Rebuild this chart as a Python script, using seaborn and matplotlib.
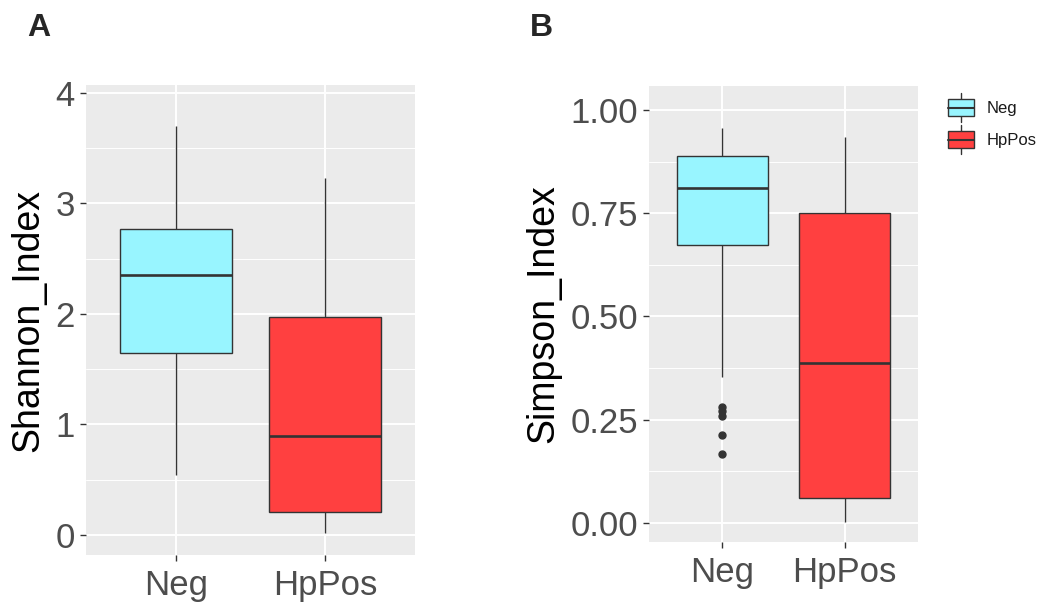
import numpy as np
import pandas as pd
import matplotlib
matplotlib.use("Agg")
import matplotlib.pyplot as plt
import seaborn as sns
from matplotlib.legend_handler import HandlerBase
from matplotlib.patches import Rectangle, Patch
from matplotlib.lines import Line2D

# ---------------- data ----------------
groups = ["Neg", "HpPos"]
shannon_neg = [0.545, 1.20, 1.65, 2.05, 2.35, 2.60, 2.77, 3.20, 3.70]
shannon_hppos = [0.02, 0.10, 0.21, 0.55, 0.90, 1.40, 1.97, 2.60, 3.23]
simpson_neg = [0.167, 0.213, 0.258, 0.270, 0.281, 0.354, 0.674,
               0.70, 0.73, 0.76, 0.78, 0.80, 0.812,
               0.83, 0.85, 0.86, 0.87, 0.88, 0.889,
               0.90, 0.91, 0.92, 0.93, 0.94, 0.957]
simpson_hppos = [0.002, 0.02, 0.061, 0.20, 0.388, 0.55, 0.751, 0.85, 0.935]
shannon_ticks = [0, 1, 2, 3, 4]
shannon_ticklabels = ["0", "1", "2", "3", "4"]
simpson_ticks = [0.00, 0.25, 0.50, 0.75, 1.00]
simpson_ticklabels = ["0.00", "0.25", "0.50", "0.75", "1.00"]
colors = {"Neg": "#98F5FF", "HpPos": "#FF4040"}

df_sh = pd.DataFrame({
    "group": ["Neg"] * len(shannon_neg) + ["HpPos"] * len(shannon_hppos),
    "Shannon_Index": shannon_neg + shannon_hppos,
})
df_si = pd.DataFrame({
    "group": ["Neg"] * len(simpson_neg) + ["HpPos"] * len(simpson_hppos),
    "Simpson_Index": simpson_neg + simpson_hppos,
})

# ---------------- style ----------------
sns.set_theme(style="darkgrid")
plt.rcParams["font.family"] = ["Liberation Sans", "DejaVu Sans"]

W, H = 1043, 605
fig = plt.figure(figsize=(W / 100, H / 100), dpi=100)

def px_axes(x0, y0, x1, y1):
    return fig.add_axes([x0 / W, 1 - y1 / H, (x1 - x0) / W, (y1 - y0) / H])

axA = px_axes(86, 85, 415, 555)
axB = px_axes(649, 86, 918, 542)

edge = "#333333"
box_kw = dict(order=groups, hue_order=groups, palette=colors, saturation=1,
              width=0.75, linecolor=edge, linewidth=1.0, legend=False,
              showcaps=False,
              medianprops=dict(linewidth=1.9, color=edge),
              whiskerprops=dict(linewidth=1.0, color=edge),
              flierprops=dict(marker="o", markerfacecolor=edge,
                              markeredgecolor=edge, markersize=5))

sns.boxplot(data=df_sh, x="group", y="Shannon_Index", hue="group", ax=axA, **box_kw)
sns.boxplot(data=df_si, x="group", y="Simpson_Index", hue="group", ax=axB, **box_kw)

def style_ax(ax, ylim, ticks, ticklabels, minor, label_x):
    ax.set_facecolor("#EBEBEB")
    ax.set_xlim(-0.6, 1.6)
    ax.set_ylim(*ylim)
    ax.set_yticks(ticks)
    ax.set_yticklabels(ticklabels)
    ax.set_yticks(minor, minor=True)
    ax.set_xlabel("")
    ax.grid(True, which="major", color="white", linewidth=1.4)
    ax.grid(True, which="minor", axis="y", color="white", linewidth=0.7)
    ax.set_axisbelow(True)
    for s in ax.spines.values():
        s.set_visible(False)
    ax.tick_params(axis="both", which="major", length=4, width=1, color=edge,
                   labelsize=25, labelcolor="#4D4D4D", pad=4,
                   bottom=True, left=True)
    ax.tick_params(axis="y", which="minor", length=0)
    ax.tick_params(axis="x", pad=6)
    ax.yaxis.label.set_size(27)
    ax.yaxis.label.set_color("black")
    ax.yaxis.set_label_coords(label_x, 0.5)

style_ax(axA, (-0.181, 4.072), shannon_ticks, shannon_ticklabels,
         [0.5, 1.5, 2.5, 3.5], (46 - 86) / 329)
style_ax(axB, (-0.046, 1.058), simpson_ticks, simpson_ticklabels,
         [0.125, 0.375, 0.625, 0.875], (561 - 649) / 269)

fig.text(27 / W, 1 - 13 / H, "A", fontsize=23, fontweight="bold", ha="left", va="top")
fig.text(530 / W, 1 - 13 / H, "B", fontsize=23, fontweight="bold", ha="left", va="top")

# ---------------- legend ----------------
class BoxHandler(HandlerBase):
    def create_artists(self, legend, orig_handle, xdescent, ydescent,
                       width, height, fontsize, trans):
        x0, y0 = -xdescent, -ydescent
        cx = x0 + width / 2
        bx0, bw = x0 + 0.1 * width, 0.8 * width
        by0, bh = y0 + 0.22 * height, 0.56 * height
        fc = orig_handle.get_facecolor()
        wb = Line2D([cx, cx], [y0, by0], color=edge, lw=1, transform=trans)
        wt = Line2D([cx, cx], [by0 + bh, y0 + height], color=edge, lw=1, transform=trans)
        rect = Rectangle((bx0, by0), bw, bh, facecolor=fc, edgecolor=edge,
                         lw=1, transform=trans)
        med = Line2D([bx0, bx0 + bw], [y0 + height / 2] * 2, color=edge,
                     lw=1.5, transform=trans)
        return [wb, wt, rect, med]

handles = [Patch(facecolor=colors[g], edgecolor=edge) for g in groups]
leg = fig.legend(handles, groups, loc="upper left",
                 bbox_to_anchor=(944.5 / W, 1 - 93 / H),
                 frameon=False, fontsize=12, handler_map={Patch: BoxHandler()},
                 handlelength=1.95, handleheight=2.3, labelspacing=0.18,
                 handletextpad=0.55, borderpad=0, borderaxespad=0)
for t in leg.get_texts():
    t.set_color("#1A1A1A")

fig.savefig("out.png", dpi=100)
